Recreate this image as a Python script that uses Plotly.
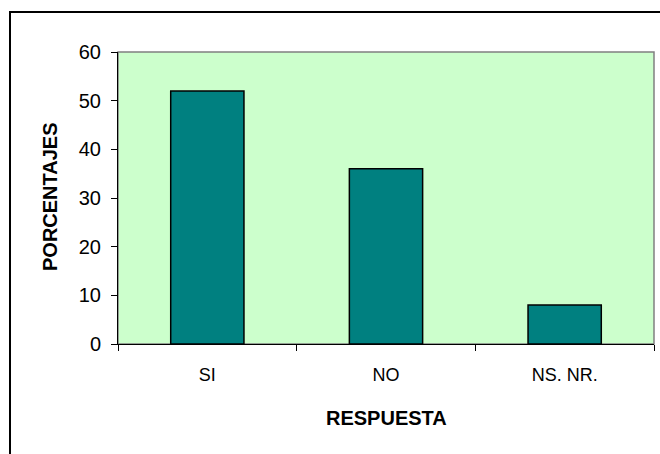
import plotly.graph_objects as go

# Survey responses (percent)
respuestas = ["SI", "NO", "NS. NR."]
porcentajes = [52, 36, 8]
y_ticks = [0, 10, 20, 30, 40, 50, 60]

fig = go.Figure(
    go.Bar(
        x=respuestas,
        y=porcentajes,
        marker=dict(color="#008080", line=dict(color="black", width=1.5)),
        hoverinfo="x+y",
    )
)

W, H = 660, 454
L, R, T, B = 118, 6, 52, 110
pw, ph = W - L - R, H - T - B

FONT = "Arial, Liberation Sans, sans-serif"

fig.update_layout(
    width=W,
    height=H,
    margin=dict(l=L, r=R, t=T, b=B),
    paper_bgcolor="white",
    plot_bgcolor="#CCFFCC",
    bargap=0.59,
    showlegend=False,
    font=dict(family=FONT, color="black", size=18),
    xaxis=dict(
        showline=True,
        linecolor="black",
        linewidth=1,
        ticks="outside",
        ticklen=6,
        tickcolor="black",
        tickson="boundaries",
        showgrid=False,
        tickfont=dict(size=18),
        ticklabelstandoff=14,
        automargin=False,
    ),
    yaxis=dict(
        range=[0, 60],
        tickvals=y_ticks,
        showline=True,
        linecolor="black",
        linewidth=1,
        ticks="outside",
        ticklen=6,
        tickcolor="black",
        showgrid=False,
        zeroline=False,
        tickfont=dict(size=20),
        ticklabelstandoff=6,
        automargin=False,
    ),
    annotations=[
        dict(
            text="<b>RESPUESTA</b>", xref="paper", yref="paper",
            x=(386 - L) / pw, y=(T + ph - 417.5) / ph,
            showarrow=False, xanchor="center", yanchor="middle",
            font=dict(size=20),
        ),
        dict(
            text="<b>PORCENTAJES</b>", xref="paper", yref="paper",
            x=(50 - L) / pw, y=(T + ph - 197) / ph,
            showarrow=False, xanchor="center", yanchor="middle",
            textangle=-90, font=dict(size=20),
        ),
    ],
    shapes=[
        # grey frame around the plotting area (top and right edges)
        dict(
            type="rect", xref="paper", yref="paper",
            x0=0, x1=1, y0=0, y1=1,
            line=dict(color="#808080", width=1.5),
            layer="below",
        ),
        # outer chart border
        dict(
            type="rect", xref="paper", yref="paper",
            x0=(10 - L) / pw, x1=(W + 20 - L) / pw,
            y0=-(H + 20 - (T + ph)) / ph, y1=(T + ph - 12) / ph,
            line=dict(color="black", width=2),
        ),
    ],
)

fig.write_html("out.html")
